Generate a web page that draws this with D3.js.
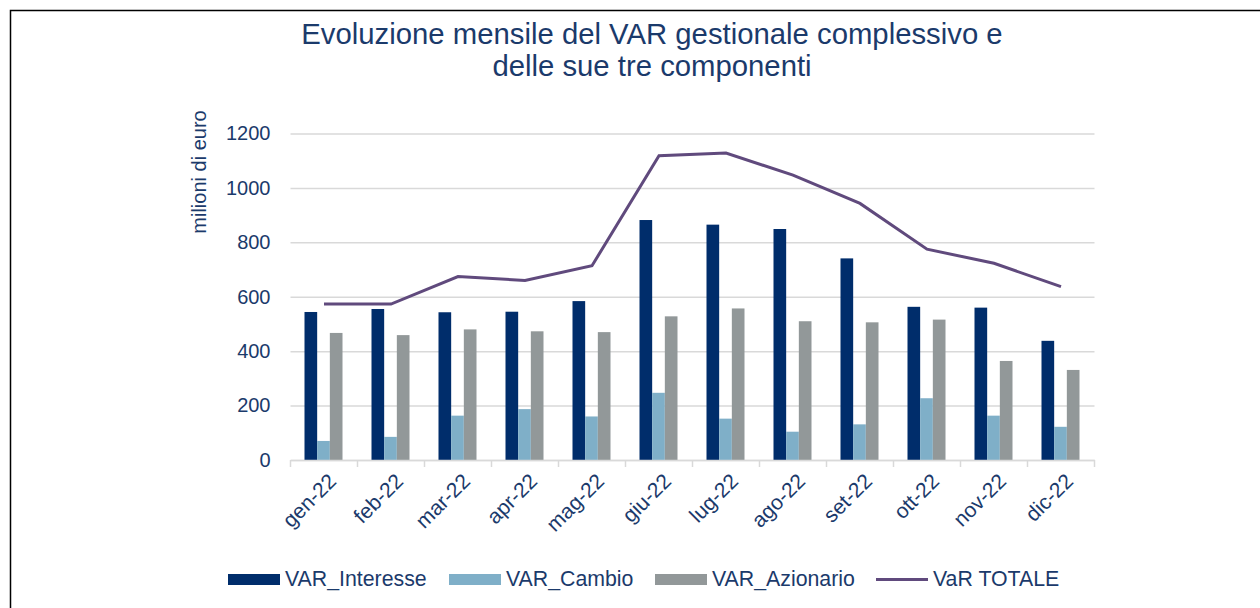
<!DOCTYPE html>
<html lang="it">
  <head>
    <meta charset="UTF-8" />
    <title>Evoluzione mensile del VAR</title>
    <script src="https://cdnjs.cloudflare.com/ajax/libs/d3/7.8.5/d3.min.js"></script>
    <style>
      body { margin: 0; background: #fff; }
      svg text { font-family: "Liberation Sans", Arial, sans-serif; fill: #1b3a6b; }
    </style>
  </head>
  <body>
    <div id="chart"></div>

    <script>
      /** Data */
      const months = ["gen-22", "feb-22", "mar-22", "apr-22", "mag-22", "giu-22",
                      "lug-22", "ago-22", "set-22", "ott-22", "nov-22", "dic-22"];
      const varInteresse = [544, 555, 543, 545, 584, 882, 865, 849, 741, 563, 560, 438];
      const varCambio    = [70, 85, 163, 187, 160, 247, 152, 104, 131, 227, 163, 122];
      const varAzionario = [467, 459, 480, 473, 470, 528, 557, 510, 506, 516, 364, 331];
      const varTotale    = [573, 573, 674, 660, 714, 1118, 1128, 1047, 943, 775, 723, 637];
      const seriesNames  = ["VAR_Interesse", "VAR_Cambio", "VAR_Azionario"];
      const lineName     = "VaR TOTALE";
      const yTicks       = [0, 200, 400, 600, 800, 1000, 1200];

      /** Layout */
      const width = 1260;
      const height = 608;
      const plotLeft = 290.5, plotRight = 1094.5, plotTop = 133.5, plotBottom = 460;
      const colors = ["#002d6b", "#7fafc8", "#929899"];
      const lineColor = "#604a7d";
      const textColor = "#1b3a6b";

      const svg = d3.select("#chart").append("svg")
        .attr("width", width).attr("height", height);

      // frame (only left and top edges visible)
      svg.append("rect")
        .attr("x", 10.5).attr("y", 10.5)
        .attr("width", 1300).attr("height", 700)
        .attr("fill", "none").attr("stroke", "#000").attr("stroke-width", 1.5);

      /** Scales */
      const x = d3.scaleBand().domain(months).range([plotLeft, plotRight]);
      const x1 = d3.scaleBand().domain(seriesNames).range([14, 52]);
      const y = d3.scaleLinear().domain([0, 1200]).range([plotBottom, plotTop]);

      /** Gridlines + y axis labels */
      const yAxis = d3.axisLeft(y).tickValues(yTicks).tickFormat(d3.format("d"))
        .tickSize(-(plotRight - plotLeft)).tickPadding(20);
      const gy = svg.append("g").attr("transform", `translate(${plotLeft},0)`).call(yAxis);
      gy.select(".domain").remove();
      gy.selectAll(".tick line").attr("stroke", "#d9d9d9").attr("stroke-width", 1.5);
      gy.selectAll(".tick text")
        .attr("font-size", 20).attr("fill", textColor)
        .style("font-family", "Liberation Sans, Arial, sans-serif");

      /** Bars */
      const seriesData = [varInteresse, varCambio, varAzionario];
      const groups = svg.append("g").selectAll("g")
        .data(months).join("g")
        .attr("transform", (d) => `translate(${x(d)},0)`);
      groups.selectAll("rect")
        .data((d, i) => seriesNames.map((s, k) => ({ s, k, v: seriesData[k][i] })))
        .join("rect")
        .attr("x", (d) => x1(d.s))
        .attr("width", x1.bandwidth())
        .attr("y", (d) => y(d.v))
        .attr("height", (d) => y(0) - y(d.v))
        .attr("fill", (d) => colors[d.k]);

      /** X axis */
      const xAxis = d3.axisBottom(x).tickSize(0).tickFormat("");
      const gx = svg.append("g").attr("transform", `translate(0,${plotBottom})`).call(xAxis);
      gx.select(".domain").attr("stroke", "#d9d9d9").attr("stroke-width", 1.5);
      gx.selectAll(".tick").remove();
      const edges = months.map((m) => x(m)).concat([plotRight]);
      gx.selectAll("line.edge").data(edges).join("line")
        .attr("class", "edge")
        .attr("x1", (d) => d).attr("x2", (d) => d)
        .attr("y1", 0).attr("y2", 7)
        .attr("stroke", "#d9d9d9").attr("stroke-width", 1.5);
      svg.append("g").selectAll("text").data(months).join("text")
        .attr("transform", (d) => `translate(${x(d) + x.bandwidth() / 2 + 3},${plotBottom + 12}) rotate(-45)`)
        .attr("text-anchor", "end")
        .attr("dy", "0.7em")
        .attr("font-size", 21)
        .text((d) => d);

      /** Total line */
      const line = d3.line()
        .x((d, i) => x(months[i]) + x.bandwidth() / 2)
        .y((d) => y(d));
      svg.append("path").datum(varTotale)
        .attr("d", line)
        .attr("fill", "none")
        .attr("stroke", lineColor)
        .attr("stroke-width", 3);

      /** Title */
      svg.append("text").attr("x", 652).attr("y", 44)
        .attr("text-anchor", "middle").attr("font-size", 29.3)
        .text("Evoluzione mensile del VAR gestionale complessivo e");
      svg.append("text").attr("x", 652).attr("y", 76)
        .attr("text-anchor", "middle").attr("font-size", 29.3)
        .text("delle sue tre componenti");

      /** Y title */
      svg.append("text")
        .attr("transform", "translate(206,172) rotate(-90)")
        .attr("text-anchor", "middle").attr("font-size", 20)
        .text("milioni di euro");

      /** Legend */
      const legendItems = [
        { name: seriesNames[0], x: 228, type: "rect", color: colors[0] },
        { name: seriesNames[1], x: 449, type: "rect", color: colors[1] },
        { name: seriesNames[2], x: 655, type: "rect", color: colors[2] },
        { name: lineName, x: 876, type: "line", color: lineColor },
      ];
      const lg = svg.append("g").selectAll("g").data(legendItems).join("g")
        .attr("transform", (d) => `translate(${d.x},0)`);
      lg.filter((d) => d.type === "rect").append("rect")
        .attr("x", 0).attr("y", 574).attr("width", 52).attr("height", 11)
        .attr("fill", (d) => d.color);
      lg.filter((d) => d.type === "line").append("line")
        .attr("x1", 0).attr("x2", 52).attr("y1", 579.5).attr("y2", 579.5)
        .attr("stroke", (d) => d.color).attr("stroke-width", 3);
      lg.append("text")
        .attr("x", 57).attr("y", 586)
        .attr("font-size", 21.3)
        .text((d) => d.name);
    </script>
  </body>
</html>
